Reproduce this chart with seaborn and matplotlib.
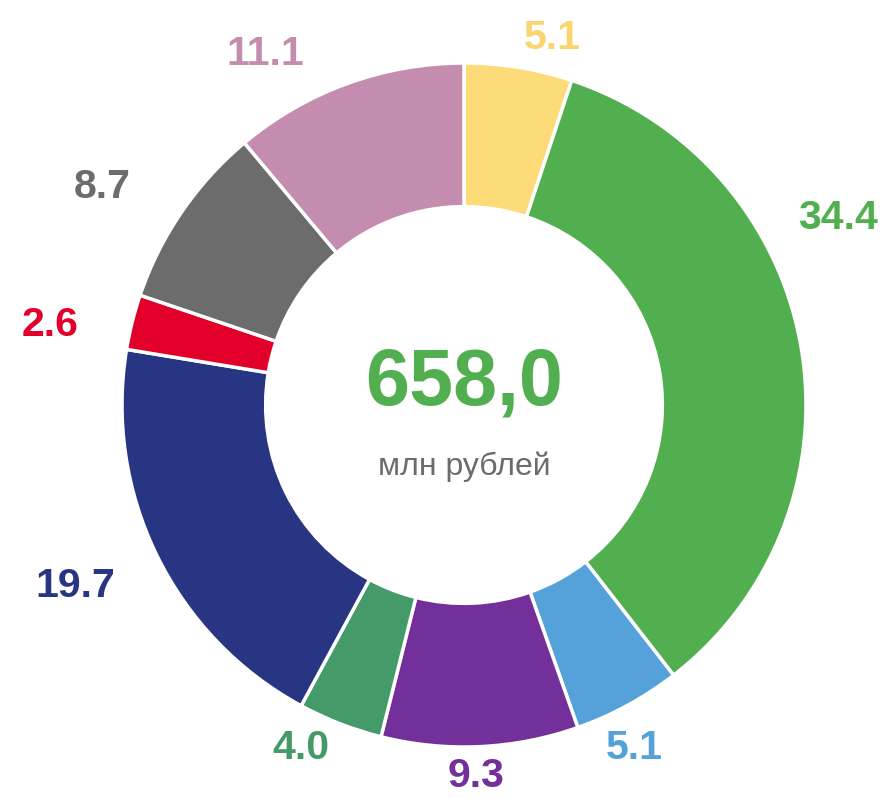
import matplotlib
matplotlib.use("Agg")
import matplotlib.pyplot as plt
import seaborn as sns
import numpy as np

sns.set_theme(style="white")
plt.rcParams['font.family'] = ['Liberation Sans', 'DejaVu Sans']

# data
shares = [5.1, 34.4, 5.1, 9.3, 4.0, 19.7, 2.6, 8.7, 11.1]
labels = ["5.1", "34.4", "5.1", "9.3", "4.0", "19.7", "2.6", "8.7", "11.1"]
colors = ["#FDDB78", "#52AF50", "#55A1DA", "#73309B", "#449A69",
          "#283583", "#E2002B", "#6C6C6C", "#C48DAF"]
total_text = "658,0"
unit_text = "млн рублей"

# label layout (angle shift in degrees from wedge middle, radius)
label_shift = [-4.4, 16.9, -2.2, -0.8, -4.2, -1.2, 3.1, 3.3, 9.6]
label_radius = [1.104, 1.223, 1.119, 1.086, 1.11, 1.254, 1.233, 1.235, 1.18]

W, H = 890, 798
fig = plt.figure(figsize=(W / 100, H / 100), dpi=100)
ax = fig.add_axes([0, 0, 1, 1])
cx, cy, R = 464, 405, 342
ax.set_xlim(-cx / R, (W - cx) / R)
ax.set_ylim(-(H - cy) / R, cy / R)
ax.set_aspect('auto')
ax.axis('off')

wedges, _ = ax.pie(shares, colors=colors, startangle=90, counterclock=False,
                   radius=1.0,
                   wedgeprops=dict(width=0.42, edgecolor='white', linewidth=2.5))
ax.set_xlim(-cx / R, (W - cx) / R)
ax.set_ylim(-(H - cy) / R, cy / R)
ax.set_aspect('auto')

cum = np.cumsum([0] + shares[:-1])
tot = sum(shares)
for i, (s, c0) in enumerate(zip(shares, cum)):
    mid = 90 - (c0 + s / 2) / tot * 360 + label_shift[i]
    r = label_radius[i]
    x = r * np.cos(np.radians(mid))
    y = r * np.sin(np.radians(mid))
    ax.text(x, y, labels[i], color=colors[i] if i != 0 else "#F9D56E",
            fontsize=29.5, fontweight='bold', ha='center', va='center')

ax.text(0, 0.06, total_text, color="#52AF50", fontsize=57, fontweight='bold',
        ha='center', va='center')
ax.text(0, -0.18, unit_text, color="#6C6C6C", fontsize=23,
        ha='center', va='center')

fig.savefig("out.png", dpi=100)
